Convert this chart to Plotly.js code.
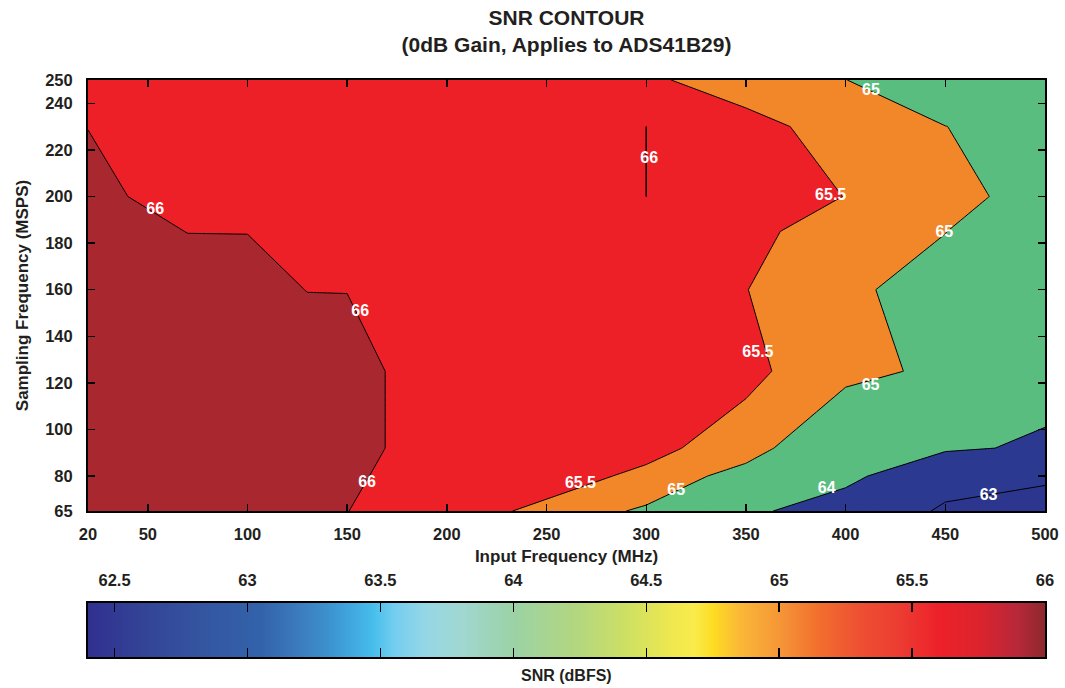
<!DOCTYPE html>
<html>
<head>
<meta charset="utf-8">
<script src="https://cdn.plot.ly/plotly-3.0.1.min.js"></script>
<style>
  html, body { margin: 0; padding: 0; background: #ffffff; }
  #chart { width: 1065px; height: 688px; }
</style>
</head>
<body>
<div id="chart"></div>
<script>
// ---- Data ----
// Input frequency grid (MHz)
const freqMHz = [20, 70, 100, 130, 150, 170, 230, 300, 350, 400, 450, 500];
// Sampling frequency grid (MSPS)
const sampleMSPS = [65, 80, 92, 125, 160, 185, 200, 230, 250];
// SNR (dBFS) per sampling-frequency row (one value per input frequency)
const snr65  = [66.4, 66.4, 66.4, 66.2, 66.01, 65.8, 65.526, 64.912, 64.15, 63.6, 62.9, 62.7];
const snr80  = [66.4, 66.4, 66.4, 66.3, 66.2, 65.84, 65.72, 65.43, 64.73, 64.2, 63.29, 63.11];
const snr92  = [66.4, 66.4, 66.4, 66.3, 66.2, 65.99, 65.8, 65.6, 65.32, 64.18, 64.1, 63.9];
const snr125 = [66.4, 66.4, 66.4, 66.3, 66.2, 65.99, 65.9, 65.8, 65.6, 65.215, 64.844, 64.27];
const snr160 = [66.3, 66.3, 66.2, 65.99, 65.99, 65.9, 65.85, 65.8, 65.51, 65.1, 64.77, 64.6];
const snr185 = [66.3, 65.99, 65.99, 65.9, 65.85, 65.85, 65.85, 65.85, 65.6, 65.31, 65.01, 64.5];
const snr200 = [66.2, 65.7, 65.8, 65.85, 65.85, 65.85, 65.85, 66.0002, 65.8, 65.49, 65.15, 64.81];
const snr230 = [65.99, 65.9, 65.9, 65.9, 65.9, 65.9, 65.85, 66.0002, 65.7, 65.25, 65.005, 64.8];
const snr250 = [65.85, 65.9, 65.9, 65.9, 65.9, 65.9, 65.85, 65.6, 65.2, 65.005, 64.7, 64.5];
const snrGrid = [snr65, snr80, snr92, snr125, snr160, snr185, snr200, snr230, snr250];

// Contour label texts and where they sit (data coordinates)
const labelText = ['66', '66', '66', '66', '65.5', '65.5', '65.5', '65', '65', '65', '65', '64', '63'];
const labelX    = [53.7, 301.5, 156.5, 160, 392.5, 356, 267, 412.7, 449.5, 412.5, 315, 390.5, 471.7];
const labelY    = [194, 216.2, 150.6, 77, 200, 133, 76.6, 245.3, 184.3, 118.6, 73.8, 74.5, 71.4];

// Tick labels
const xTicks = [20, 50, 100, 150, 200, 250, 300, 350, 400, 450, 500];
const yTicks = [65, 80, 100, 120, 140, 160, 180, 200, 220, 240, 250];
const cbTicks = [62.5, 63, 63.5, 64, 64.5, 65, 65.5, 66];
const cbTickText = ['62.5', '63', '63.5', '64', '64.5', '65', '65.5', '66'];
const cbRange = [62.4, 66];

// ---- Styles ----
const FONT = 'Liberation Sans, Arial, Helvetica, sans-serif';
const TXT = '#231f20';
// band colours: <63, 63-63.5, 63.5-64, 64-64.5, 64.5-65, 65-65.5, 65.5-66, >66
const bandColors = ['#2c368e', '#2b3990', '#2b3990', '#58bd7e', '#58bd7e', '#f28729', '#ed2027', '#a9272f'];
const fillScale = bandColors.map((c, i) => [i / (bandColors.length - 1), c]);

const gradStops = [
  [62.4, '#313090'], [62.6, '#334395'], [62.85, '#3457a2'], [63.05, '#3263aa'],
  [63.2, '#3c7dbe'], [63.3, '#3c91cd'], [63.4, '#41aae1'], [63.47, '#46beeb'],
  [63.55, '#73cdf0'], [63.67, '#96d7e6'], [63.8, '#a0d7d2'], [64.0, '#9bd2a5'],
  [64.25, '#b4d77d'], [64.45, '#d2e15f'], [64.6, '#f0e84f'], [64.68, '#faeb4b'],
  [64.75, '#fddc23'], [64.85, '#fab837'], [65.0, '#f59637'], [65.15, '#f26e2d'],
  [65.3, '#ee5032'], [65.45, '#ec3c32'], [65.6, '#ed2129'], [65.75, '#dc232d'],
  [65.9, '#b5283a'], [66.0, '#8c282d']
];
const gradScale = gradStops.map(s => [(s[0] - cbRange[0]) / (cbRange[1] - cbRange[0]), s[1]]);

const traces = [
  {
    type: 'contour', x: freqMHz, y: sampleMSPS, z: snrGrid,
    autocontour: false,
    contours: { start: 63, end: 66, size: 0.5, coloring: 'fill', showlines: false },
    line: { width: 0, smoothing: 0 },
    colorscale: fillScale, showscale: false, hoverinfo: 'skip'
  },
  {
    type: 'contour', x: freqMHz, y: sampleMSPS, z: snrGrid,
    autocontour: false,
    contours: { start: 63, end: 66, size: 1, coloring: 'none', showlines: true },
    line: { width: 1, color: '#000000', smoothing: 0 },
    showscale: false, hoverinfo: 'skip'
  },
  {
    type: 'contour', x: freqMHz, y: sampleMSPS, z: snrGrid,
    autocontour: false,
    contours: { start: 65.5, end: 65.6, size: 1, coloring: 'none', showlines: true },
    line: { width: 1, color: '#000000', smoothing: 0 },
    showscale: false, hoverinfo: 'skip'
  },
  {
    type: 'scatter', mode: 'text', x: labelX, y: labelY, text: labelText,
    textposition: 'middle center',
    textfont: { family: FONT, size: 16, color: '#ffffff', weight: 'bold' },
    hoverinfo: 'skip', showlegend: false
  },
  {
    type: 'heatmap', xaxis: 'x2', yaxis: 'y2',
    x: cbRange, y: [0, 1], z: [cbRange, cbRange],
    zmin: cbRange[0], zmax: cbRange[1], zsmooth: 'best',
    colorscale: gradScale, showscale: false, hoverinfo: 'skip'
  }
];

const axisCommon = {
  ticks: 'inside', ticklen: 7, tickwidth: 1.5, tickcolor: '#000000',
  showline: true, linecolor: '#000000', linewidth: 2, mirror: 'ticks',
  showgrid: false, zeroline: false, fixedrange: true,
  tickfont: { family: FONT, size: 16.5, color: TXT, weight: 'bold' }
};

const layout = {
  width: 1065, height: 688,
  margin: { l: 88, r: 20, t: 80, b: 31 },
  paper_bgcolor: '#ffffff', plot_bgcolor: '#ffffff',
  font: { family: FONT, size: 16.5, color: TXT, weight: 'bold' },
  showlegend: false,
  title: {
    text: 'SNR CONTOUR<br>(0dB Gain, Applies to ADS41B29)',
    font: { family: FONT, size: 21, color: TXT, weight: 'bold' },
    x: 0.5, xref: 'paper', xanchor: 'center',
    y: 0.964, yref: 'container', yanchor: 'top'
  },
  xaxis: Object.assign({}, axisCommon, {
    domain: [0, 1], range: [20, 500], anchor: 'y',
    tickmode: 'array', tickvals: xTicks, ticklabelstandoff: 7,
    title: { text: 'Input Frequency (MHz)', font: { family: FONT, size: 17, color: TXT, weight: 'bold' }, standoff: 8 }
  }),
  yaxis: Object.assign({}, axisCommon, {
    domain: [0.253, 1], range: [65, 250], anchor: 'x',
    tickmode: 'array', tickvals: yTicks, ticklabelstandoff: 10,
    title: { text: 'Sampling Frequency (MSPS)', font: { family: FONT, size: 17, color: TXT, weight: 'bold' }, standoff: 12 }
  }),
  xaxis2: Object.assign({}, axisCommon, {
    domain: [0, 1], range: cbRange, anchor: 'y2', side: 'top',
    tickmode: 'array', tickvals: cbTicks, ticktext: cbTickText,
    ticklen: 9, ticklabelstandoff: 8
  }),
  yaxis2: {
    domain: [0, 0.0936], range: [0, 1], anchor: 'x2',
    showticklabels: false, ticks: '', showgrid: false, zeroline: false,
    showline: true, linecolor: '#000000', linewidth: 2, mirror: true, fixedrange: true
  },
  annotations: [{
    text: 'SNR (dBFS)', xref: 'paper', yref: 'paper', x: 0.5, y: 0,
    xanchor: 'center', yanchor: 'top', yshift: -8, showarrow: false,
    font: { family: FONT, size: 16, color: TXT, weight: 'bold' }
  }]
};

Plotly.newPlot('chart', traces, layout, { displayModeBar: false, staticPlot: true });
</script>
</body>
</html>
